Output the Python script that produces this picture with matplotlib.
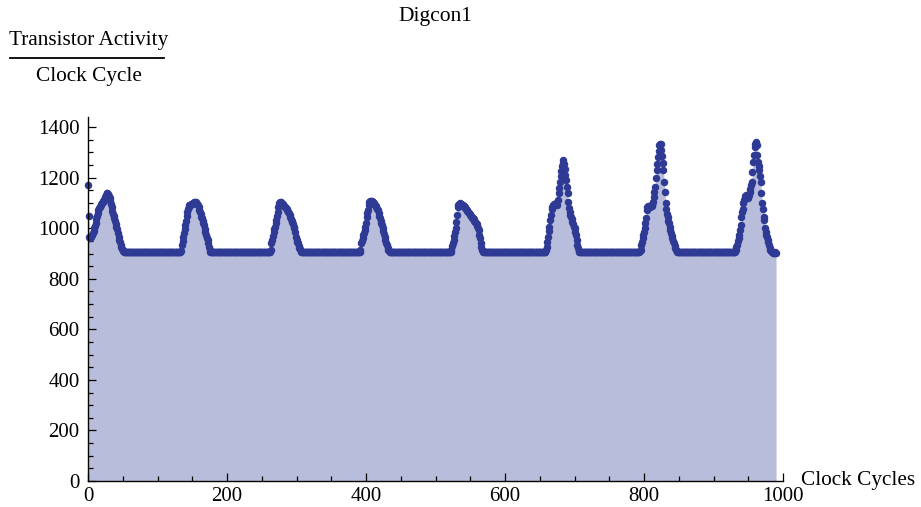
import numpy as np
import matplotlib
matplotlib.use("Agg")
import matplotlib.pyplot as plt
from matplotlib.lines import Line2D
from matplotlib.ticker import MultipleLocator

plt.rcParams['font.family'] = ['Liberation Serif', 'DejaVu Serif']

# transistor activity per clock cycle (cycles 0..990)
activity = [
    1170, 1050, 965, 962, 966, 970, 975, 980, 990, 1000,      # 0
    1010, 1020, 1035, 1050, 1062, 1072, 1080, 1085, 1090, 1095,
    1100, 1104, 1108, 1112, 1118, 1125, 1132, 1138, 1140, 1136,
    1128, 1118, 1108, 1095, 1082, 1068, 1058, 1050, 1040, 1028,
    1015, 1005, 995, 980, 966, 955, 945, 935, 925, 918,
    912, 908, 906, 905, 904, 905, 906, 905, 904, 905,           # 50
    906, 905, 905, 904, 905, 907, 905, 904, 905, 906,
    905, 904, 905, 906, 905, 905, 904, 905, 907, 906,
    905, 904, 905, 905, 906, 905, 904, 905, 906, 905,
    905, 904, 906, 905, 905, 904, 905, 907, 905, 904,
    905, 906, 905, 904, 905, 905, 906, 905, 904, 905,           # 100
    907, 905, 904, 905, 906, 905, 905, 904, 905, 906,
    905, 904, 905, 905, 907, 905, 904, 905, 906, 905,
    905, 904, 905, 906, 910, 935, 950, 966, 980, 995,
    1012, 1030, 1050, 1065, 1078, 1085, 1090, 1092, 1094, 1096,
    1097, 1098, 1100, 1102, 1105, 1104, 1100, 1095, 1090, 1082,  # 150
    1072, 1065, 1055, 1046, 1039, 1030, 1020, 1012, 998, 986,
    975, 962, 953, 940, 925, 912, 906, 905, 904, 905,
    905, 906, 904, 905, 905, 907, 905, 904, 905, 906,
    905, 904, 905, 906, 905, 905, 904, 906, 905, 905,
    904, 905, 907, 905, 905, 904, 905, 906, 905, 904,           # 200
    905, 905, 904, 905, 906, 905, 907, 905, 904, 905,
    905, 906, 904, 905, 905, 907, 905, 904, 905, 906,
    905, 904, 905, 906, 905, 905, 904, 906, 905, 905,
    904, 905, 907, 905, 905, 904, 905, 906, 905, 904,
    905, 905, 904, 905, 906, 905, 907, 905, 904, 905,           # 250
    905, 904, 906, 912, 940, 955, 970, 985, 995, 1005,
    1019, 1032, 1050, 1065, 1085, 1098, 1105, 1103, 1100, 1097,
    1094, 1091, 1088, 1085, 1082, 1080, 1078, 1072, 1066, 1060,
    1052, 1045, 1038, 1030, 1025, 1015, 1005, 999, 985, 966,
    953, 945, 940, 930, 922, 916, 910, 906, 905, 904,           # 300
    905, 906, 904, 905, 905, 907, 905, 904, 905, 906,
    905, 904, 905, 906, 905, 905, 904, 906, 905, 905,
    904, 905, 907, 905, 905, 904, 905, 906, 905, 904,
    905, 905, 904, 905, 906, 905, 907, 905, 904, 905,
    905, 906, 904, 905, 905, 907, 905, 904, 905, 906,           # 350
    905, 904, 905, 906, 905, 905, 904, 906, 905, 905,
    904, 905, 907, 905, 905, 904, 905, 906, 905, 904,
    905, 905, 904, 905, 906, 905, 907, 905, 904, 905,
    905, 906, 915, 940, 950, 962, 972, 982, 992, 1005,
    1019, 1045, 1060, 1072, 1090, 1105, 1108, 1107, 1106, 1105,  # 400
    1102, 1098, 1094, 1091, 1087, 1082, 1077, 1072, 1062, 1050,
    1039, 1030, 1020, 1012, 1000, 990, 979, 966, 953, 943,
    933, 922, 913, 908, 905, 904, 905, 906, 905, 904,
    905, 906, 904, 905, 905, 907, 905, 904, 905, 906,
    905, 904, 905, 906, 905, 905, 904, 906, 905, 905,           # 450
    904, 905, 907, 905, 905, 904, 905, 906, 905, 904,
    905, 905, 904, 905, 906, 905, 907, 905, 904, 905,
    905, 906, 904, 905, 905, 907, 905, 904, 905, 906,
    905, 904, 905, 906, 905, 905, 904, 906, 905, 905,
    904, 905, 907, 905, 905, 904, 905, 906, 905, 904,           # 500
    905, 905, 904, 905, 906, 905, 907, 905, 904, 905,
    905, 904, 906, 912, 928, 940, 955, 970, 985, 999,
    1025, 1052, 1085, 1092, 1096, 1098, 1097, 1095, 1093, 1091,
    1088, 1086, 1083, 1080, 1078, 1074, 1070, 1066, 1062, 1058,
    1054, 1050, 1046, 1042, 1039, 1035, 1030, 1025, 1020, 1015,  # 550
    1008, 1000, 994, 975, 960, 940, 926, 915, 909, 905,
    905, 906, 904, 905, 905, 907, 905, 904, 905, 906,
    905, 904, 905, 906, 905, 905, 904, 906, 905, 905,
    904, 905, 907, 905, 905, 904, 905, 906, 905, 904,
    905, 905, 904, 905, 906, 905, 907, 905, 904, 905,           # 600
    905, 906, 904, 905, 905, 907, 905, 904, 905, 906,
    905, 904, 905, 906, 905, 905, 904, 906, 905, 905,
    904, 905, 907, 905, 905, 904, 905, 906, 905, 904,
    905, 905, 904, 905, 906, 905, 907, 905, 904, 905,
    905, 904, 906, 905, 905, 904, 906, 905, 904, 912,           # 650
    927, 945, 965, 990, 1006, 1032, 1052, 1078, 1085, 1090,
    1093, 1095, 1097, 1098, 1096, 1093, 1110, 1140, 1160, 1184,
    1205, 1225, 1245, 1260, 1269, 1255, 1235, 1210, 1190, 1165,
    1138, 1105, 1080, 1065, 1052, 1045, 1035, 1025, 1015, 1006,
    999, 985, 973, 953, 935, 920, 910, 906, 905, 904,           # 700
    905, 906, 904, 905, 905, 907, 905, 904, 905, 906,
    905, 904, 905, 906, 905, 905, 904, 906, 905, 905,
    904, 905, 907, 905, 905, 904, 905, 906, 905, 904,
    905, 905, 904, 905, 906, 905, 907, 905, 904, 905,
    905, 906, 904, 905, 905, 907, 905, 904, 905, 906,           # 750
    905, 904, 905, 906, 905, 905, 904, 906, 905, 905,
    904, 905, 907, 905, 905, 904, 905, 906, 905, 904,
    905, 905, 904, 905, 906, 905, 907, 905, 904, 905,
    905, 904, 906, 905, 908, 915, 933, 946, 960, 973,
    986, 1000, 1020, 1039, 1072, 1082, 1087, 1088, 1086, 1085,  # 800
    1086, 1088, 1091, 1105, 1124, 1145, 1164, 1197, 1230, 1255,
    1280, 1305, 1329, 1335, 1335, 1310, 1285, 1260, 1230, 1184,
    1144, 1100, 1075, 1055, 1045, 1030, 1019, 1005, 992, 980,
    970, 960, 950, 940, 930, 920, 913, 908, 905, 904,
    905, 906, 904, 905, 905, 907, 905, 904, 905, 906,           # 850
    905, 904, 905, 906, 905, 905, 904, 906, 905, 905,
    904, 905, 907, 905, 905, 904, 905, 906, 905, 904,
    905, 905, 904, 905, 906, 905, 907, 905, 904, 905,
    905, 906, 904, 905, 905, 907, 905, 904, 905, 906,
    905, 904, 905, 906, 905, 905, 904, 906, 905, 905,           # 900
    904, 905, 907, 905, 905, 904, 905, 906, 905, 904,
    905, 905, 904, 905, 906, 905, 907, 905, 904, 905,
    905, 906, 912, 925, 935, 948, 960, 973, 992, 1012,
    1045, 1065, 1078, 1100, 1111, 1120, 1128, 1131, 1128, 1122,
    1118, 1130, 1145, 1157, 1170, 1184, 1223, 1263, 1289, 1320,  # 950
    1335, 1340, 1329, 1289, 1263, 1245, 1230, 1205, 1184, 1138,
    1100, 1078, 1045, 1032, 999, 985, 975, 965, 955, 946,
    935, 920, 912, 908, 906, 904, 903, 903, 904, 903,
    903,
]
cycles = np.arange(len(activity))

title = "Digcon1"
xlabel = "Clock Cycles"
ylabel_top = "Transistor Activity"
ylabel_bottom = "Clock Cycle"
xticks = [0, 200, 400, 600, 800, 1000]
yticks = [0, 200, 400, 600, 800, 1000, 1200, 1400]

fill_col = '#b7bddb'
dot_col = '#2f3a95'

W, H = 921, 507
fig = plt.figure(figsize=(W / 100, H / 100), dpi=100)
ax = fig.add_axes([88 / W, 1 - 481 / H, (783 - 88) / W, (481 - 117) / H])

ax.fill_between(cycles, 0, activity, color=fill_col, lw=0, zorder=1)
ax.plot(cycles, activity, 'o', ms=5.4, color=dot_col, mec='none', zorder=2, clip_on=False)

ax.set_xlim(0, 1000)
ax.set_ylim(0, 1440)
ax.set_xticks(xticks)
ax.set_yticks(yticks)
ax.xaxis.set_minor_locator(MultipleLocator(50))
ax.yaxis.set_minor_locator(MultipleLocator(50))
ax.tick_params(which='both', direction='in', width=0.9, labelsize=15)
ax.tick_params(which='major', length=6)
ax.tick_params(which='minor', length=3.5)
ax.tick_params(axis='y', pad=6)
ax.tick_params(axis='x', pad=4)
for s in ['top', 'right']:
    ax.spines[s].set_visible(False)
for s in ['left', 'bottom']:
    ax.spines[s].set_linewidth(1.0)

fig.text(435.5 / W, 1 - 17 / H, title, ha='center', va='center', fontsize=15.5)
fig.text(801 / W, 1 - 480 / H, xlabel, ha='left', va='center', fontsize=15.3)
fig.text(88.5 / W, 1 - 40 / H, ylabel_top, ha='center', va='center', fontsize=15.3)
fig.text(88.5 / W, 1 - 76 / H, ylabel_bottom, ha='center', va='center', fontsize=15.3)
fig.add_artist(Line2D([10 / W, 164 / W], [1 - 58 / H, 1 - 58 / H], color='black', lw=1.3))

fig.savefig('out.png', dpi=100)
